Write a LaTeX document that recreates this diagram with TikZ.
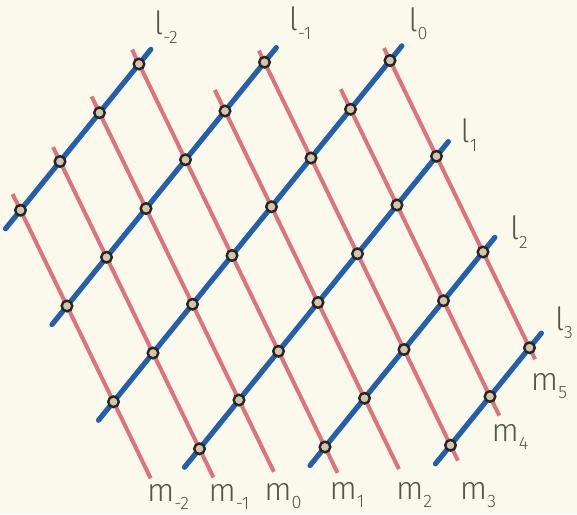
\documentclass[tikz,border=0pt]{standalone}
\usepackage{fontspec}
\newfontfamily\lblfont{Fira Sans}[UprightFont=* Light]

\definecolor{paper}{RGB}{251,249,235}
\definecolor{lineblue}{RGB}{35,95,170}
\definecolor{linered}{RGB}{222,115,128}
\definecolor{dotfill}{RGB}{212,198,168}
\definecolor{ink}{RGB}{85,85,75}

% letter with a lowered index
\newcommand{\sublab}[2]{#1\raisebox{-0.5ex}{\fontsize{9}{9}\selectfont #2}}

\begin{document}
\begin{tikzpicture}[
  x=0.5pt, y=-0.5pt,
  bline/.style={draw=lineblue, line width=2.6pt, line cap=round},
  rline/.style={draw=linered, line width=2pt},
  dot/.style={circle, draw=black!85, line width=1.2pt, fill=dotfill,
              inner sep=0pt, minimum size=5.3pt},
  lbl/.style={font={\lblfont\fontsize{16}{16}\selectfont}, text=ink,
              inner sep=0pt}
]

\useasboundingbox (0,0) rectangle (577,514);
\fill[paper] (0,0) rectangle (577,514);

% lattice: x runs across the l lines, y along them
\begin{scope}[shift={(192.5,304.25)}, x={(23.25pt,-47.875pt)}, y={(19.75pt,24.375pt)}]

  % m lines
  \foreach \j/\itop/\ibot in {-2/-2.17/0.8, -1/-2.15/1.3, 0/-2.17/1.75,
      1/-2.15/2.27, 2/-1.22/2.74, 3/-1.12/3.16, 4/-0.21/3.2, 5/-0.13/3.12} {
    \coordinate (m\j-top) at (\itop,\j);
    \coordinate (m\j-bot) at (\ibot,\j);
    \draw[rline] (m\j-top) -- (m\j-bot);
  }

  % l lines
  \foreach \i/\jlo/\jhi in {-2/-2/1, -1/-2/3, 0/-2/5, 1/-1/5, 2/1/5, 3/3/5} {
    \coordinate (l\i-bot) at (\i,{\jlo-0.38});
    \coordinate (l\i-top) at (\i,{\jhi+0.3});
    \draw[bline] (l\i-bot) -- (l\i-top);
  }

  % crossing points
  \foreach \i/\jlo/\jhi in {-2/-2/1, -1/-2/3, 0/-2/5, 1/-1/5, 2/1/5, 3/3/5}
    \foreach \j in {\jlo,...,\jhi}
      \node[dot] (d\i_\j) at (\i,\j) {};

\end{scope}

\node[lbl] (lab-l-2) at (166,27)  {\sublab{l}{-2}};
\node[lbl] (lab-l-1) at (300,23)  {\sublab{l}{-1}};
\node[lbl] (lab-l0)  at (418,24)  {\sublab{l}{0}};
\node[lbl] (lab-l1)  at (469,135) {\sublab{l}{1}};
\node[lbl] (lab-l2)  at (519,232) {\sublab{l}{2}};
\node[lbl] (lab-l3)  at (564,323) {\sublab{l}{3}};

\node[lbl] (lab-m-2) at (168,497) {\sublab{m}{-2}};
\node[lbl] (lab-m-1) at (229,497) {\sublab{m}{-1}};
\node[lbl] (lab-m0)  at (283,496) {\sublab{m}{0}};
\node[lbl] (lab-m1)  at (347,495) {\sublab{m}{1}};
\node[lbl] (lab-m2)  at (414,495) {\sublab{m}{2}};
\node[lbl] (lab-m3)  at (478,495) {\sublab{m}{3}};
\node[lbl] (lab-m4)  at (510,437) {\sublab{m}{4}};
\node[lbl] (lab-m5)  at (549,386) {\sublab{m}{5}};

\end{tikzpicture}
\end{document}
